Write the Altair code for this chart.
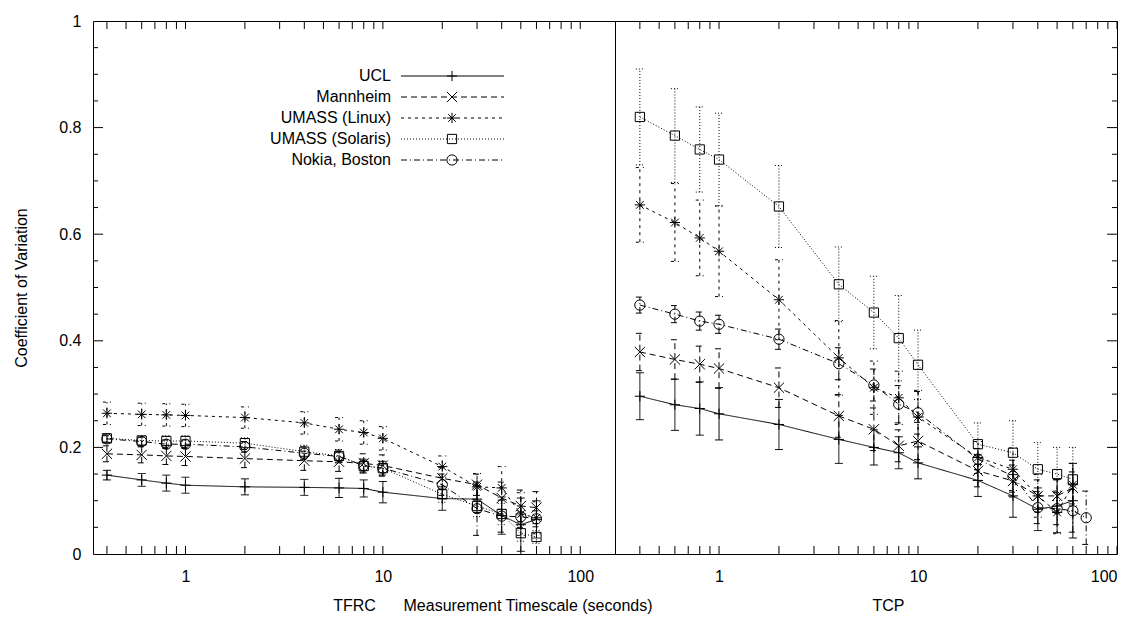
import altair as alt
import pandas as pd

SERIES = ["UCL", "Mannheim", "UMASS (Linux)", "UMASS (Solaris)", "Nokia, Boston"]
X_VALUES = [0.4, 0.6, 0.8, 1, 2, 4, 6, 8, 10, 20, 30, 40, 50, 60]
X_NOKIA_TCP = [0.4, 0.6, 0.8, 1, 2, 4, 6, 8, 10, 20, 30, 40, 50, 60, 70]

# TFRC (left panel): mean coefficient of variation and error half-width
TFRC_UCL = [0.148, 0.139, 0.133, 0.129, 0.126, 0.125, 0.124, 0.123, 0.116, 0.104, 0.103, 0.072, 0.055, 0.065]
TFRC_UCL_ERR = [0.009, 0.012, 0.015, 0.015, 0.015, 0.015, 0.018, 0.016, 0.02, 0.022, 0.025, 0.035, 0.05, 0.035]
TFRC_MANN = [0.188, 0.186, 0.184, 0.183, 0.179, 0.175, 0.173, 0.17, 0.166, 0.142, 0.13, 0.105, 0.09, 0.087]
TFRC_MANN_ERR = [0.015, 0.015, 0.016, 0.017, 0.017, 0.018, 0.018, 0.018, 0.02, 0.02, 0.02, 0.03, 0.03, 0.03]
TFRC_LINUX = [0.264, 0.262, 0.261, 0.26, 0.256, 0.246, 0.234, 0.228, 0.217, 0.164, 0.126, 0.124, 0.075, 0.068]
TFRC_LINUX_ERR = [0.021, 0.021, 0.021, 0.021, 0.02, 0.021, 0.022, 0.022, 0.022, 0.02, 0.025, 0.04, 0.04, 0.03]
TFRC_SOLARIS = [0.217, 0.213, 0.212, 0.212, 0.208, 0.192, 0.184, 0.165, 0.161, 0.112, 0.09, 0.075, 0.039, 0.032]
TFRC_SOLARIS_ERR = [0.008, 0.009, 0.01, 0.01, 0.01, 0.012, 0.012, 0.013, 0.013, 0.015, 0.02, 0.02, 0.015, 0.012]
TFRC_NOKIA = [0.216, 0.211, 0.206, 0.206, 0.201, 0.189, 0.183, 0.166, 0.161, 0.13, 0.085, 0.071, 0.07, 0.066]
TFRC_NOKIA_ERR = [0.006, 0.008, 0.008, 0.008, 0.01, 0.012, 0.012, 0.012, 0.013, 0.02, 0.05, 0.03, 0.02, 0.015]

# TCP (right panel)
TCP_UCL = [0.296, 0.28, 0.273, 0.263, 0.243, 0.215, 0.2, 0.19, 0.171, 0.138, 0.109, 0.084, 0.09, 0.1]
TCP_UCL_ERR = [0.044, 0.048, 0.05, 0.049, 0.047, 0.045, 0.033, 0.03, 0.03, 0.03, 0.04, 0.04, 0.05, 0.07]
TCP_MANN = [0.379, 0.365, 0.356, 0.348, 0.312, 0.259, 0.234, 0.203, 0.212, 0.156, 0.137, 0.109, 0.109, 0.124]
TCP_MANN_ERR = [0.035, 0.037, 0.034, 0.037, 0.037, 0.04, 0.04, 0.03, 0.035, 0.03, 0.03, 0.03, 0.03, 0.03]
TCP_LINUX = [0.655, 0.622, 0.593, 0.568, 0.477, 0.368, 0.312, 0.293, 0.257, 0.181, 0.159, 0.109, 0.078, 0.13]
TCP_LINUX_ERR = [0.07, 0.073, 0.071, 0.085, 0.075, 0.07, 0.05, 0.05, 0.05, 0.03, 0.04, 0.04, 0.04, 0.04]
TCP_SOLARIS = [0.82, 0.785, 0.759, 0.74, 0.652, 0.506, 0.453, 0.405, 0.355, 0.206, 0.19, 0.159, 0.15, 0.14]
TCP_SOLARIS_ERR = [0.09, 0.088, 0.08, 0.087, 0.077, 0.07, 0.068, 0.08, 0.065, 0.04, 0.06, 0.05, 0.05, 0.06]
TCP_NOKIA = [0.467, 0.45, 0.437, 0.431, 0.403, 0.357, 0.317, 0.281, 0.265, 0.178, 0.146, 0.087, 0.085, 0.081, 0.068]
TCP_NOKIA_ERR = [0.015, 0.016, 0.017, 0.017, 0.019, 0.03, 0.03, 0.035, 0.04, 0.02, 0.03, 0.03, 0.03, 0.04, 0.05]

X_TICKS = [0.4, 0.5, 0.6, 0.7, 0.8, 0.9, 1, 2, 3, 4, 5, 6, 7, 8, 9, 10,
           20, 30, 40, 50, 60, 70, 80, 90, 100]
X_LABELS = [1, 10, 100]
Y_LABELS = [0, 0.2, 0.4, 0.6, 0.8, 1]
Y_MAJOR_TICKS = [0.2, 0.4, 0.6, 0.8]
Y_MINOR_TICKS = [0.05, 0.1, 0.15, 0.25, 0.3, 0.35, 0.45, 0.5, 0.55,
                 0.65, 0.7, 0.75, 0.85, 0.9, 0.95]

DASHES = [[1, 0], [6, 4], [3, 4], [1, 2], [6, 3, 1, 3]]
SHAPES = [
    "M-1,0H1M0,-1V1",
    "M-1,-1L1,1M-1,1L1,-1",
    "M-1,0H1M0,-1V1M-0.75,-0.75L0.75,0.75M-0.75,0.75L0.75,-0.75",
    "M-0.9,-0.9H0.9V0.9H-0.9Z",
    "circle",
]

FONT = "Liberation Sans"
H = 533
W_LEFT = 522
W_RIGHT = 502
MSIZE = 105

rows = []


def add(proto, series, xs, means, errs):
    for x, m, e in zip(xs, means, errs):
        rows.append({"proto": proto, "series": series, "x": x, "v": m,
                     "lo": m - e, "hi": m + e})


add("TFRC", SERIES[0], X_VALUES, TFRC_UCL, TFRC_UCL_ERR)
add("TFRC", SERIES[1], X_VALUES, TFRC_MANN, TFRC_MANN_ERR)
add("TFRC", SERIES[2], X_VALUES, TFRC_LINUX, TFRC_LINUX_ERR)
add("TFRC", SERIES[3], X_VALUES, TFRC_SOLARIS, TFRC_SOLARIS_ERR)
add("TFRC", SERIES[4], X_VALUES, TFRC_NOKIA, TFRC_NOKIA_ERR)
add("TCP", SERIES[0], X_VALUES, TCP_UCL, TCP_UCL_ERR)
add("TCP", SERIES[1], X_VALUES, TCP_MANN, TCP_MANN_ERR)
add("TCP", SERIES[2], X_VALUES, TCP_LINUX, TCP_LINUX_ERR)
add("TCP", SERIES[3], X_VALUES, TCP_SOLARIS, TCP_SOLARIS_ERR)
add("TCP", SERIES[4], X_NOKIA_TCP, TCP_NOKIA, TCP_NOKIA_ERR)
df = pd.DataFrame(rows)

DASH = alt.StrokeDash("series:N", scale=alt.Scale(domain=SERIES, range=DASHES), legend=None)
SHAPE = alt.Shape("series:N", scale=alt.Scale(domain=SERIES, range=SHAPES), legend=None)


def panel(proto, width, dom, show_y, x_title, title_x, legend):
    xaxis = alt.Axis(values=X_LABELS, labelExpr="'' + datum.value", ticks=False,
                     domain=False, grid=False, labelPadding=14, titlePadding=13,
                     title=x_title, titleX=title_x)
    xs = alt.Scale(type="log", domain=dom, nice=False)

    def Xf(field="x"):
        return alt.X(field + ":Q", scale=xs, axis=xaxis)

    if show_y:
        yaxis = alt.Axis(values=Y_LABELS, labelExpr="'' + datum.value", ticks=False,
                         domain=False, grid=False, labelPadding=12, titlePadding=29,
                         title="Coefficient of Variation")
    else:
        yaxis = None
    ys = alt.Scale(domain=[0, 1], nice=False, zero=False)

    def Yf(field):
        return alt.Y(field + ":Q", scale=ys, axis=yaxis)

    d = df[df.proto == proto]
    base = alt.Chart(d)
    lines = base.mark_line(color="black", strokeWidth=1).encode(
        x=Xf(), y=Yf("v"), strokeDash=DASH)
    bars = base.mark_rule(color="black", strokeWidth=1).encode(
        x=Xf(), y=Yf("lo"), y2="hi:Q", strokeDash=DASH)
    cap_lo = base.mark_rule(color="black", strokeWidth=1, xOffset=-4, x2Offset=4).encode(
        x=Xf(), x2="x:Q", y=Yf("lo"), strokeDash=DASH)
    cap_hi = base.mark_rule(color="black", strokeWidth=1, xOffset=-4, x2Offset=4).encode(
        x=Xf(), x2="x:Q", y=Yf("hi"), strokeDash=DASH)
    pts = base.mark_point(filled=False, color="black", strokeWidth=1, size=MSIZE, opacity=1).encode(
        x=Xf(), y=Yf("v"), shape=SHAPE)

    xt = alt.Chart(pd.DataFrame({"x": X_TICKS}))
    tick_b = xt.mark_rule(color="black", strokeWidth=1).encode(
        x=Xf(), y=alt.value(H), y2=alt.value(H - 8))
    tick_t = xt.mark_rule(color="black", strokeWidth=1).encode(
        x=Xf(), y=alt.value(0), y2=alt.value(8))

    ymaj = alt.Chart(pd.DataFrame({"v": Y_MAJOR_TICKS}))
    ymin = alt.Chart(pd.DataFrame({"v": Y_MINOR_TICKS}))
    if show_y:
        ytk1 = ymaj.mark_rule(color="black", strokeWidth=1).encode(
            y=Yf("v"), x=alt.value(0), x2=alt.value(10))
        ytk2 = ymin.mark_rule(color="black", strokeWidth=1).encode(
            y=Yf("v"), x=alt.value(0), x2=alt.value(5))
    else:
        ytk1 = ymaj.mark_rule(color="black", strokeWidth=1).encode(
            y=Yf("v"), x=alt.value(width), x2=alt.value(width - 10))
        ytk2 = ymin.mark_rule(color="black", strokeWidth=1).encode(
            y=Yf("v"), x=alt.value(width), x2=alt.value(width - 5))

    layers = [tick_b, tick_t, ytk1, ytk2, lines, bars, cap_lo, cap_hi, pts]

    if legend:
        ld = alt.Chart(pd.DataFrame({"series": SERIES, "i": list(range(len(SERIES)))})
                       ).transform_calculate(ly="55 + 21 * datum.i")
        LY = alt.Y("ly:Q", scale=None, axis=None)
        l_text = ld.mark_text(align="right", baseline="middle", fontSize=16, font=FONT,
                              color="black").encode(text="series:N", x=alt.value(298), y=LY)
        l_rule = ld.mark_rule(color="black", strokeWidth=1).encode(
            x=alt.value(308), x2=alt.value(411), y=LY, strokeDash=DASH)
        l_pt = ld.mark_point(filled=False, color="black", strokeWidth=1, size=MSIZE, opacity=1).encode(
            x=alt.value(359), y=LY, shape=SHAPE)
        mid = alt.Chart(pd.DataFrame({"t": ["Measurement Timescale (seconds)"]})).mark_text(
            align="center", baseline="top", fontSize=16, font=FONT, color="black").encode(
            text="t:N", x=alt.value(435), y=alt.value(H + 44))
        layers += [l_rule, l_pt, l_text, mid]

    return alt.layer(*layers).properties(width=width, height=H)


left = panel("TFRC", W_LEFT, [0.34, 150], True, "TFRC", W_LEFT / 2, True)
right = panel("TCP", W_RIGHT, [0.3, 100], False, "TCP", 273, False)

chart = alt.hconcat(left, right, spacing=0, bounds="flush").properties(
    padding={"left": 13, "top": 12, "right": 5, "bottom": 5}
).configure_view(
    stroke="black", strokeWidth=1
).configure_axis(
    labelFont=FONT, titleFont=FONT, labelFontSize=16, titleFontSize=16,
    titleFontWeight="normal", labelColor="black", titleColor="black"
)

chart.save("out.html", embed_options={"renderer": "svg", "actions": False})
